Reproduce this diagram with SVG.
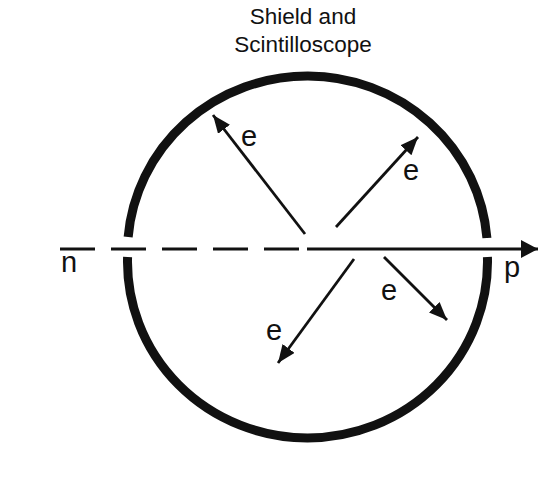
<svg xmlns="http://www.w3.org/2000/svg" width="538" height="499" viewBox="0 0 538 499">
  <style>
    .lbl { font-family: "Liberation Sans", Arial, sans-serif; fill: #111; }
    .title { font-size: 22.5px; text-anchor: middle; }
    .e { font-size: 29px; }
    .shield { fill: none; stroke: #111; stroke-width: 9; }
    .ray { stroke: #111; stroke-width: 2.8; fill: none; }
    .beam { stroke: #111; stroke-width: 3.2; fill: none; }
  </style>
  <defs>
    <marker id="ah" markerUnits="userSpaceOnUse" markerWidth="22" markerHeight="18" refX="18" refY="7.5" orient="auto">
      <path d="M0,0 L18,7.5 L0,15 Z" fill="#111"/>
    </marker>
    <marker id="ahBig" markerUnits="userSpaceOnUse" markerWidth="20" markerHeight="20" refX="17" refY="9" orient="auto">
      <path d="M0,0 L17,9 L0,18 Z" fill="#111"/>
    </marker>
  </defs>
  <rect width="538" height="499" fill="#fff"/>

  <g id="title">
    <text class="lbl title" x="303" y="24">Shield and</text>
    <text class="lbl title" x="303" y="52">Scintilloscope</text>
  </g>

  <g id="shield">
    <path class="shield" d="M128.15,237 A180,176 0 0 1 486.93,238"/>
    <path class="shield" d="M487.43,257 A180,176 0 1 1 127.57,257"/>
  </g>

  <g id="connectors">
    <path class="beam" d="M60,249 H95 M111,249 H146 M162,249 H197 M213,249 H248 M264,249 H299"/>
    <line class="beam" x1="307" y1="249" x2="538" y2="249" marker-end="url(#ahBig)"/>
    <line class="ray" x1="305" y1="234" x2="213" y2="115" marker-end="url(#ah)"/>
    <line class="ray" x1="336" y1="227" x2="418" y2="137" marker-end="url(#ah)"/>
    <line class="ray" x1="384" y1="257" x2="447" y2="320" marker-end="url(#ah)"/>
    <line class="ray" x1="354" y1="259" x2="278" y2="363" marker-end="url(#ah)"/>
  </g>

  <g id="labels">
    <text class="lbl e" x="61" y="272">n</text>
    <text class="lbl e" x="504" y="277">p</text>
    <text class="lbl e" x="241" y="146">e</text>
    <text class="lbl e" x="403" y="180">e</text>
    <text class="lbl e" x="381" y="300">e</text>
    <text class="lbl e" x="266" y="340">e</text>
  </g>
</svg>
